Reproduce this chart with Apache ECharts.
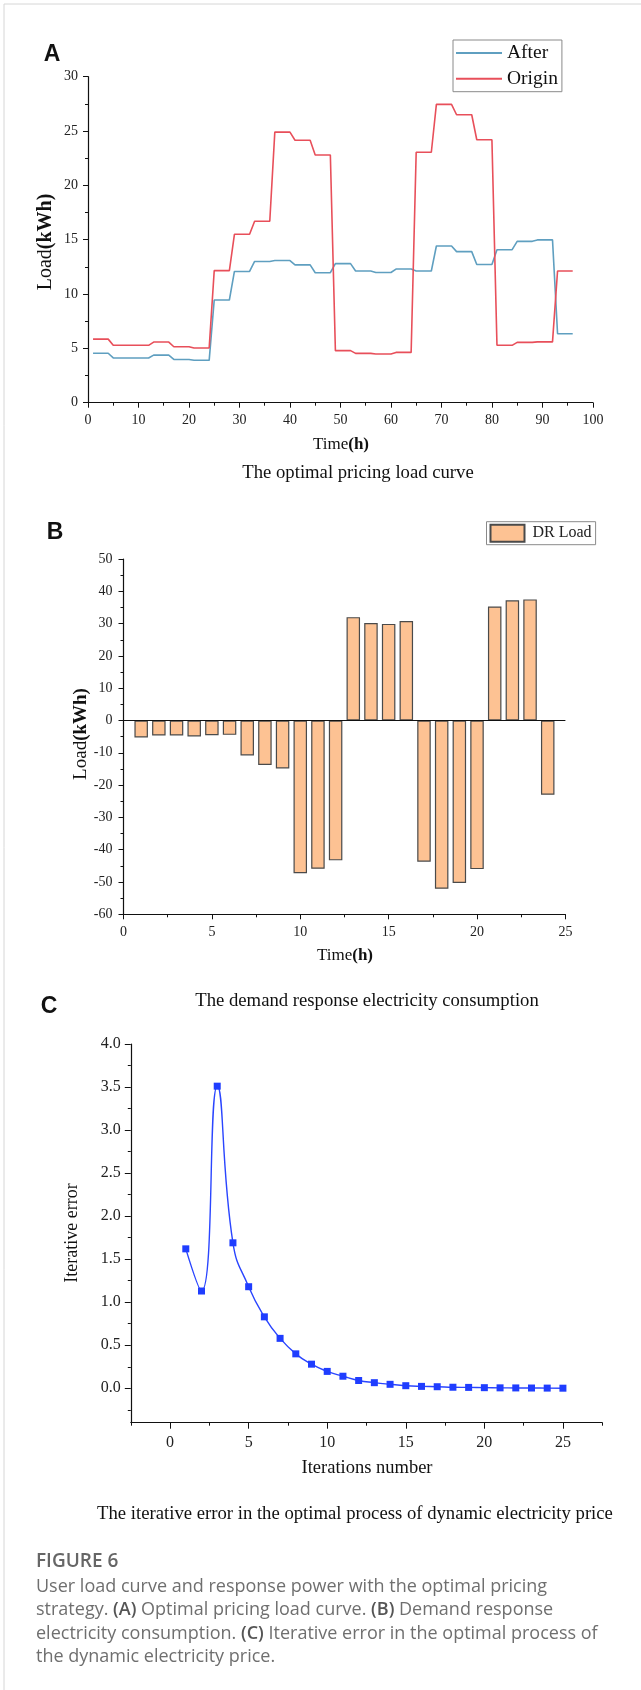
<!DOCTYPE html>
<html>
<head>
<meta charset="utf-8">
<script src="https://cdn.jsdelivr.net/npm/echarts@6.0.0/dist/echarts.min.js"></script>
<style>
  html, body { margin: 0; padding: 0; background: #fff; }
  #main { width: 641px; height: 1690px; }
</style>
</head>
<body>
<div id="main"></div>
<script>
// ---- data ----
// (A) 15-min points 1..96
var timeA = [1,2,3,4,5,6,7,8,9,10,11,12,13,14,15,16,17,18,19,20,21,22,23,24,
  25,26,27,28,29,30,31,32,33,34,35,36,37,38,39,40,41,42,43,44,45,46,47,48,
  49,50,51,52,53,54,55,56,57,58,59,60,61,62,63,64,65,66,67,68,69,70,71,72,
  73,74,75,76,77,78,79,80,81,82,83,84,85,86,87,88,89,90,91,92,93,94,95,96];
var afterLoad = [4.55,4.55,4.55,4.55, 4.12,4.12,4.12,4.12, 4.12,4.12,4.12,4.12,
  4.38,4.38,4.38,4.38, 3.98,3.98,3.98,3.98, 3.9,3.9,3.9,3.9,
  9.45,9.45,9.45,9.45, 12.08,12.08,12.08,12.08, 13.0,13.0,13.0,13.0,
  13.08,13.08,13.08,13.08, 12.68,12.68,12.68,12.68, 11.96,11.96,11.96,11.96,
  12.8,12.8,12.8,12.8, 12.12,12.12,12.12,12.12, 11.98,11.98,11.98,11.98,
  12.3,12.3,12.3,12.3, 12.12,12.12,12.12,12.12, 14.42,14.42,14.42,14.42,
  13.9,13.9,13.9,13.9, 12.72,12.72,12.72,12.72, 14.08,14.08,14.08,14.08,
  14.85,14.85,14.85,14.85, 14.98,14.98,14.98,14.98, 6.35,6.35,6.35,6.35];
var originLoad = [5.85,5.85,5.85,5.85, 5.28,5.28,5.28,5.28, 5.28,5.28,5.28,5.28,
  5.58,5.58,5.58,5.58, 5.15,5.15,5.15,5.15, 5.03,5.03,5.03,5.03,
  12.15,12.15,12.15,12.15, 15.5,15.5,15.5,15.5, 16.7,16.7,16.7,16.7,
  24.9,24.9,24.9,24.9, 24.15,24.15,24.15,24.15, 22.8,22.8,22.8,22.8,
  4.79,4.79,4.79,4.79, 4.54,4.54,4.54,4.54, 4.48,4.48,4.48,4.48,
  4.63,4.63,4.63,4.63, 23.05,23.05,23.05,23.05, 27.45,27.45,27.45,27.45,
  26.5,26.5,26.5,26.5, 24.2,24.2,24.2,24.2, 5.28,5.28,5.28,5.28,
  5.55,5.55,5.55,5.55, 5.6,5.6,5.6,5.6, 12.12,12.12,12.12,12.12];

// (B) hourly DR load
var hoursB = [1,2,3,4,5,6,7,8,9,10,11,12,13,14,15,16,17,18,19,20,21,22,23,24];
var drLoad = [-5.26,-4.65,-4.65,-4.95,-4.55,-4.45,-10.8,-13.8,-14.85,-47.3,-45.9,-43.3,
  32.0,30.2,29.9,30.8,-43.7,-52.1,-50.3,-46.0,35.3,37.2,37.5,-23.0];

// (C) iterative error
var iterC = [1,2,3,4,5,6,7,8,9,10,11,12,13,14,15,16,17,18,19,20,21,22,23,24,25];
var iterError = [1.62,1.13,3.51,1.69,1.18,0.83,0.58,0.40,0.28,0.196,0.14,0.09,0.065,
  0.046,0.03,0.022,0.018,0.012,0.01,0.007,0.005,0.004,0.003,0.002,0.001];

// tick positions for (C)
var cxMajor = [0,5,10,15,20,25];
var cxMinor = [-2.5,2.5,7.5,12.5,17.5,22.5,27.5];
var cyMajor = [0,0.5,1.0,1.5,2.0,2.5,3.0,3.5,4.0];
var cyMinor = [-0.25,0.25,0.75,1.25,1.75,2.25,2.75,3.25,3.75];

function pairs(xs, ys) {
  return xs.map(function (x, i) { return [x, ys[i]]; });
}

var serif = 'Liberation Serif';
var sans = 'Open Sans';
var axisCol = '#111';

function valAxis(o) {
  var a = {
    type: 'value',
    gridIndex: o.grid,
    min: o.min, max: o.max,
    splitLine: { show: false },
    axisLine: { show: true, onZero: false, lineStyle: { color: axisCol, width: 1.2 } },
    axisTick: { show: true, length: 5, lineStyle: { color: axisCol, width: 1 } },
    minorTick: { show: !!o.minor, splitNumber: 2, length: 3, lineStyle: { color: axisCol, width: 1 } },
    axisLabel: { margin: o.margin || 10, fontFamily: serif, fontSize: o.fs || 14, color: '#222' }
  };
  if (o.interval) a.interval = o.interval;
  return a;
}

var myChart = echarts.init(document.getElementById('main'), null, { width: 641, height: 1690 });

var xC = valAxis({ grid: 2, min: -2.5, max: 27.5, fs: 16, margin: 12 });
xC.axisTick.customValues = cxMajor;
xC.axisTick.length = 6;
xC.axisLabel.customValues = cxMajor;
var xCminor = valAxis({ grid: 2, min: -2.5, max: 27.5 });
xCminor.position = 'bottom';
xCminor.axisLine.show = false;
xCminor.axisLabel.show = false;
xCminor.axisTick.customValues = cxMinor;
xCminor.axisTick.length = 3;

var yC = valAxis({ grid: 2, min: -0.4, max: 4, fs: 16, margin: 10 });
yC.position = 'left';
yC.axisTick.customValues = cyMajor;
yC.axisTick.length = 6;
yC.axisLabel.customValues = cyMajor;
yC.axisLabel.formatter = function (v) { return v.toFixed(1); };
var yCminor = valAxis({ grid: 2, min: -0.4, max: 4 });
yCminor.position = 'left';
yCminor.axisLine.show = false;
yCminor.axisLabel.show = false;
yCminor.axisTick.customValues = cyMinor;
yCminor.axisTick.length = 3;

function txt(x, y, text, size, rot) {
  return {
    type: 'text', x: x, y: y, rotation: rot || 0,
    style: {
      text: text, fill: '#111', align: 'center', verticalAlign: 'middle',
      fontFamily: serif, fontSize: size
    }
  };
}

function letter(x, y, text) {
  return {
    type: 'text', x: x, y: y,
    style: {
      text: text, fill: '#111', align: 'center', verticalAlign: 'middle',
      fontFamily: 'Liberation Sans', fontWeight: 'bold', fontSize: 23
    }
  };
}

function richName(x, y, a, b, size, rot) {
  return {
    type: 'text', x: x, y: y, rotation: rot || 0,
    style: {
      text: '{n|' + a + '}{b|' + b + '}', align: 'center', verticalAlign: 'middle',
      rich: {
        n: { fontFamily: serif, fontSize: size, fill: '#111' },
        b: { fontFamily: serif, fontSize: size, fontWeight: 'bold', fill: '#111' }
      }
    }
  };
}

function capLine(y, text) {
  return {
    type: 'text', x: 36, y: y,
    style: {
      text: text, align: 'left', verticalAlign: 'middle',
      rich: {
        n: { fontFamily: sans, fontSize: 18, fill: '#6f6f6f' },
        b: { fontFamily: sans, fontSize: 18, fontWeight: 600, fill: '#555' }
      }
    }
  };
}

var option = {
  backgroundColor: '#fff',
  animation: false,
  grid: [
    { left: 88, top: 76.7, width: 504.9, height: 326 },
    { left: 123.5, top: 559, width: 441.9, height: 355.3 },
    { left: 130.8, top: 1044, width: 471.4, height: 378.7 }
  ],
  legend: [
    {
      data: ['After', 'Origin'],
      orient: 'vertical', left: 453, top: 40,
      icon: 'rect', itemWidth: 46, itemHeight: 2, itemGap: 5.7,
      padding: [3, 4, 3, 3],
      borderColor: '#8a8a8a', borderWidth: 1,
      textStyle: { fontFamily: serif, fontSize: 19.5, lineHeight: 20, color: '#111' }
    },
    {
      data: ['DR Load'],
      left: 486.5, top: 521.7,
      icon: 'rect', itemWidth: 34, itemHeight: 17,
      padding: [2, 4, 2, 3],
      borderColor: '#8a8a8a', borderWidth: 1,
      textStyle: { fontFamily: serif, fontSize: 16, color: '#222', padding: [0, 0, 0, 3] }
    }
  ],
  xAxis: [
    valAxis({ grid: 0, min: 0, max: 100, interval: 10, minor: true, margin: 11 }),
    valAxis({ grid: 1, min: 0, max: 25, interval: 5, minor: true, margin: 11 }),
    xC, xCminor
  ],
  yAxis: [
    valAxis({ grid: 0, min: 0, max: 30, interval: 5, minor: true, margin: 10 }),
    valAxis({ grid: 1, min: -60, max: 50, interval: 10, minor: true, margin: 11 }),
    yC, yCminor
  ],
  series: [
    {
      name: 'After', type: 'line', xAxisIndex: 0, yAxisIndex: 0,
      symbol: 'none', data: pairs(timeA, afterLoad),
      lineStyle: { color: '#5f9fc0', width: 1.6 }, itemStyle: { color: '#5f9fc0' }
    },
    {
      name: 'Origin', type: 'line', xAxisIndex: 0, yAxisIndex: 0,
      symbol: 'none', data: pairs(timeA, originLoad),
      lineStyle: { color: '#e84f5a', width: 1.6 }, itemStyle: { color: '#e84f5a' }
    },
    {
      name: 'DR Load', type: 'bar', xAxisIndex: 1, yAxisIndex: 1,
      barWidth: 13.5, data: pairs(hoursB, drLoad),
      itemStyle: { color: '#fdc293', borderColor: '#4a4a4a', borderWidth: 1.2 },
      markLine: {
        silent: true, symbol: 'none', label: { show: false },
        lineStyle: { color: '#111', type: 'solid', width: 1.2 },
        data: [{ yAxis: 0 }]
      }
    },
    {
      name: 'Error', type: 'line', xAxisIndex: 2, yAxisIndex: 2,
      smooth: 0.5, symbol: 'rect', symbolSize: 7, data: pairs(iterC, iterError),
      lineStyle: { color: '#2a45ff', width: 1.4 }, itemStyle: { color: '#1f3dff' }
    }
  ],
  graphic: [
    { type: 'rect', shape: { x: 4, y: 4, width: 700, height: 1700 },
      style: { fill: 'none', stroke: '#d6d6d6', lineWidth: 1 } },
    // panel letters
    letter(52, 55, 'A'),
    letter(55, 533, 'B'),
    letter(49, 1007, 'C'),
    // (A) axis names + subtitle
    richName(341, 444.5, 'Time', '(h)', 17),
    richName(46, 242, 'Load', '(kWh)', 20, Math.PI / 2),
    txt(358, 473, 'The optimal pricing load curve', 18.7),
    // (B)
    richName(345, 956, 'Time', '(h)', 17),
    richName(80.7, 734, 'Load', '(kWh)', 19, Math.PI / 2),
    txt(367, 1000.7, 'The demand response electricity consumption', 18.7),
    // (C)
    txt(367, 1468.3, 'Iterations number', 18.5),
    txt(72.6, 1233, 'Iterative error', 18, Math.PI / 2),
    txt(355, 1514.3, 'The iterative error in the optimal process of dynamic electricity price', 18.7),
    // caption
    { type: 'text', x: 36, y: 1561.5, style: { text: 'FIGURE 6', align: 'left', verticalAlign: 'middle', fontFamily: sans, fontWeight: 600, fontSize: 19, fill: '#666' } },
    capLine(1586.7, '{n|User load curve and response power with the optimal pricing}'),
    capLine(1610.2, '{n|strategy. }{b|(A)}{n| Optimal pricing load curve. }{b|(B)}{n| Demand response}'),
    capLine(1633.7, '{n|electricity consumption. }{b|(C)}{n| Iterative error in the optimal process of}'),
    capLine(1657.2, '{n|the dynamic electricity price.}')
  ]
};

myChart.setOption(option);
</script>
</body>
</html>
